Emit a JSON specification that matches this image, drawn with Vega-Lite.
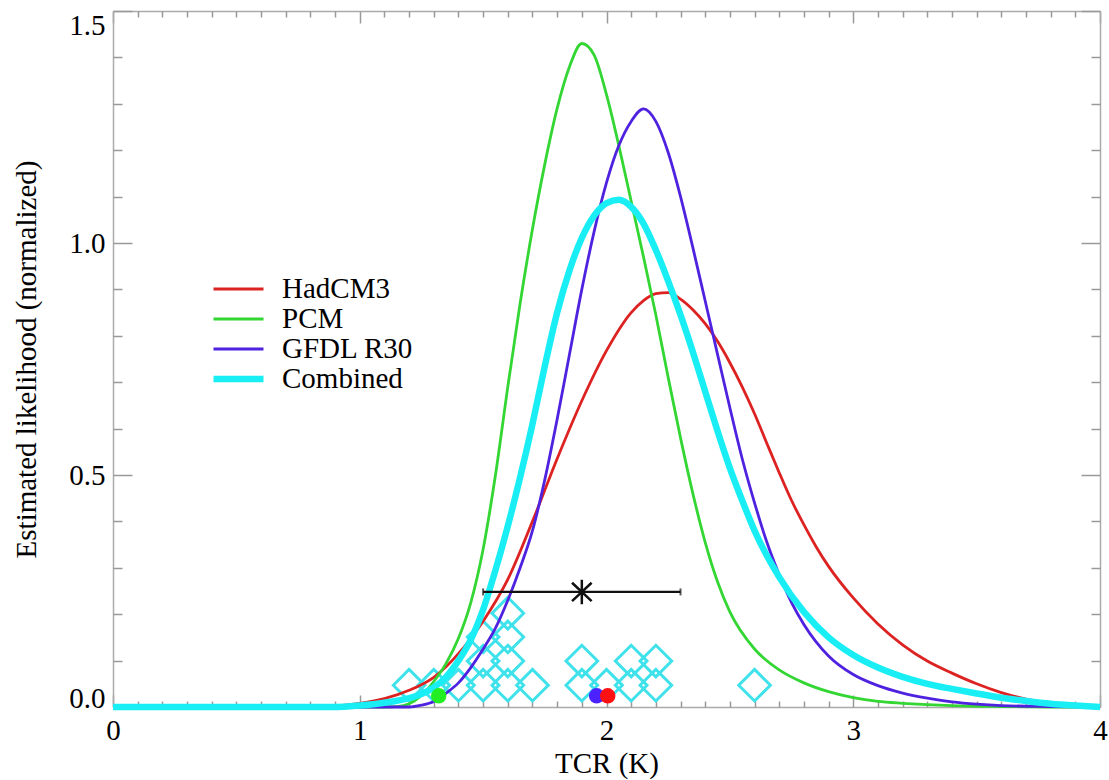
{
  "$schema": "https://vega.github.io/schema/vega-lite/v6.json",
  "width": 987,
  "height": 696,
  "autosize": {"type": "none"},
  "padding": {"left": 113, "top": 11, "right": 9, "bottom": 73},
  "background": "white",
  "config": {
    "view": {"stroke": null},
    "font": "Liberation Serif",
    "axis": {
      "labelFont": "Liberation Serif",
      "labelFontSize": 29,
      "labelColor": "#000000",
      "titleFont": "Liberation Serif",
      "titleFontSize": 29,
      "titleFontWeight": "normal",
      "titleColor": "#000000",
      "domainColor": "#aaaaaa",
      "domainWidth": 1.5,
      "tickColor": "#999999",
      "tickWidth": 1.5,
      "grid": false
    }
  },
  "datasets": {
    "curves": [
      {"model": "HadCM3", "x": 0, "y": 0}, {"model": "HadCM3", "x": 0.8, "y": 0}, {"model": "HadCM3", "x": 0.9, "y": 0.002},
      {"model": "HadCM3", "x": 1.0, "y": 0.008}, {"model": "HadCM3", "x": 1.1, "y": 0.018}, {"model": "HadCM3", "x": 1.2, "y": 0.036},
      {"model": "HadCM3", "x": 1.3, "y": 0.064}, {"model": "HadCM3", "x": 1.4, "y": 0.115}, {"model": "HadCM3", "x": 1.5, "y": 0.185},
      {"model": "HadCM3", "x": 1.6, "y": 0.275}, {"model": "HadCM3", "x": 1.7, "y": 0.40}, {"model": "HadCM3", "x": 1.8, "y": 0.535},
      {"model": "HadCM3", "x": 1.9, "y": 0.66}, {"model": "HadCM3", "x": 2.0, "y": 0.768}, {"model": "HadCM3", "x": 2.1, "y": 0.85},
      {"model": "HadCM3", "x": 2.15, "y": 0.876}, {"model": "HadCM3", "x": 2.2, "y": 0.891}, {"model": "HadCM3", "x": 2.25, "y": 0.893},
      {"model": "HadCM3", "x": 2.3, "y": 0.879}, {"model": "HadCM3", "x": 2.35, "y": 0.856}, {"model": "HadCM3", "x": 2.4, "y": 0.826},
      {"model": "HadCM3", "x": 2.45, "y": 0.788}, {"model": "HadCM3", "x": 2.5, "y": 0.742}, {"model": "HadCM3", "x": 2.55, "y": 0.69},
      {"model": "HadCM3", "x": 2.6, "y": 0.632}, {"model": "HadCM3", "x": 2.65, "y": 0.568}, {"model": "HadCM3", "x": 2.7, "y": 0.505},
      {"model": "HadCM3", "x": 2.75, "y": 0.445}, {"model": "HadCM3", "x": 2.8, "y": 0.393}, {"model": "HadCM3", "x": 2.85, "y": 0.345},
      {"model": "HadCM3", "x": 2.9, "y": 0.303}, {"model": "HadCM3", "x": 3.0, "y": 0.235}, {"model": "HadCM3", "x": 3.1, "y": 0.179},
      {"model": "HadCM3", "x": 3.2, "y": 0.134}, {"model": "HadCM3", "x": 3.3, "y": 0.099}, {"model": "HadCM3", "x": 3.4, "y": 0.073},
      {"model": "HadCM3", "x": 3.5, "y": 0.05}, {"model": "HadCM3", "x": 3.6, "y": 0.031}, {"model": "HadCM3", "x": 3.7, "y": 0.017},
      {"model": "HadCM3", "x": 3.8, "y": 0.008}, {"model": "HadCM3", "x": 3.9, "y": 0.002}, {"model": "HadCM3", "x": 4.0, "y": 0},

      {"model": "PCM", "x": 0, "y": 0}, {"model": "PCM", "x": 1.1, "y": 0}, {"model": "PCM", "x": 1.15, "y": 0.001},
      {"model": "PCM", "x": 1.2, "y": 0.007}, {"model": "PCM", "x": 1.25, "y": 0.025}, {"model": "PCM", "x": 1.3, "y": 0.055},
      {"model": "PCM", "x": 1.35, "y": 0.094}, {"model": "PCM", "x": 1.4, "y": 0.148}, {"model": "PCM", "x": 1.45, "y": 0.225},
      {"model": "PCM", "x": 1.5, "y": 0.34}, {"model": "PCM", "x": 1.55, "y": 0.50}, {"model": "PCM", "x": 1.6, "y": 0.69},
      {"model": "PCM", "x": 1.65, "y": 0.87}, {"model": "PCM", "x": 1.7, "y": 1.03}, {"model": "PCM", "x": 1.75, "y": 1.17},
      {"model": "PCM", "x": 1.8, "y": 1.29}, {"model": "PCM", "x": 1.85, "y": 1.38}, {"model": "PCM", "x": 1.9, "y": 1.43},
      {"model": "PCM", "x": 1.95, "y": 1.405}, {"model": "PCM", "x": 2.0, "y": 1.32}, {"model": "PCM", "x": 2.05, "y": 1.21},
      {"model": "PCM", "x": 2.1, "y": 1.09}, {"model": "PCM", "x": 2.15, "y": 0.97}, {"model": "PCM", "x": 2.2, "y": 0.845},
      {"model": "PCM", "x": 2.25, "y": 0.71}, {"model": "PCM", "x": 2.3, "y": 0.58}, {"model": "PCM", "x": 2.35, "y": 0.46},
      {"model": "PCM", "x": 2.4, "y": 0.355}, {"model": "PCM", "x": 2.45, "y": 0.27}, {"model": "PCM", "x": 2.5, "y": 0.205},
      {"model": "PCM", "x": 2.6, "y": 0.125}, {"model": "PCM", "x": 2.7, "y": 0.08}, {"model": "PCM", "x": 2.8, "y": 0.052},
      {"model": "PCM", "x": 2.9, "y": 0.033}, {"model": "PCM", "x": 3.0, "y": 0.02}, {"model": "PCM", "x": 3.1, "y": 0.012},
      {"model": "PCM", "x": 3.2, "y": 0.008}, {"model": "PCM", "x": 3.3, "y": 0.005}, {"model": "PCM", "x": 3.4, "y": 0.003},
      {"model": "PCM", "x": 3.6, "y": 0.001}, {"model": "PCM", "x": 3.8, "y": 0}, {"model": "PCM", "x": 4.0, "y": 0},

      {"model": "GFDL R30", "x": 0, "y": 0}, {"model": "GFDL R30", "x": 1.2, "y": 0}, {"model": "GFDL R30", "x": 1.25, "y": 0.004},
      {"model": "GFDL R30", "x": 1.3, "y": 0.012}, {"model": "GFDL R30", "x": 1.35, "y": 0.03}, {"model": "GFDL R30", "x": 1.4, "y": 0.052},
      {"model": "GFDL R30", "x": 1.45, "y": 0.085}, {"model": "GFDL R30", "x": 1.5, "y": 0.125}, {"model": "GFDL R30", "x": 1.55, "y": 0.17},
      {"model": "GFDL R30", "x": 1.6, "y": 0.23}, {"model": "GFDL R30", "x": 1.65, "y": 0.30}, {"model": "GFDL R30", "x": 1.7, "y": 0.38},
      {"model": "GFDL R30", "x": 1.75, "y": 0.49}, {"model": "GFDL R30", "x": 1.8, "y": 0.62}, {"model": "GFDL R30", "x": 1.85, "y": 0.76},
      {"model": "GFDL R30", "x": 1.9, "y": 0.90}, {"model": "GFDL R30", "x": 1.95, "y": 1.025}, {"model": "GFDL R30", "x": 2.0, "y": 1.13},
      {"model": "GFDL R30", "x": 2.05, "y": 1.21}, {"model": "GFDL R30", "x": 2.1, "y": 1.262}, {"model": "GFDL R30", "x": 2.15, "y": 1.289},
      {"model": "GFDL R30", "x": 2.2, "y": 1.262}, {"model": "GFDL R30", "x": 2.25, "y": 1.195}, {"model": "GFDL R30", "x": 2.3, "y": 1.10},
      {"model": "GFDL R30", "x": 2.35, "y": 0.99}, {"model": "GFDL R30", "x": 2.4, "y": 0.875}, {"model": "GFDL R30", "x": 2.45, "y": 0.76},
      {"model": "GFDL R30", "x": 2.5, "y": 0.645}, {"model": "GFDL R30", "x": 2.55, "y": 0.535}, {"model": "GFDL R30", "x": 2.6, "y": 0.44},
      {"model": "GFDL R30", "x": 2.65, "y": 0.355}, {"model": "GFDL R30", "x": 2.7, "y": 0.285}, {"model": "GFDL R30", "x": 2.75, "y": 0.225},
      {"model": "GFDL R30", "x": 2.8, "y": 0.178}, {"model": "GFDL R30", "x": 2.9, "y": 0.11}, {"model": "GFDL R30", "x": 3.0, "y": 0.07},
      {"model": "GFDL R30", "x": 3.1, "y": 0.046}, {"model": "GFDL R30", "x": 3.2, "y": 0.03}, {"model": "GFDL R30", "x": 3.3, "y": 0.019},
      {"model": "GFDL R30", "x": 3.4, "y": 0.011}, {"model": "GFDL R30", "x": 3.5, "y": 0.006}, {"model": "GFDL R30", "x": 3.6, "y": 0.003},
      {"model": "GFDL R30", "x": 3.8, "y": 0.001}, {"model": "GFDL R30", "x": 4.0, "y": 0},

      {"model": "Combined", "x": 0, "y": 0}, {"model": "Combined", "x": 0.9, "y": 0}, {"model": "Combined", "x": 0.95, "y": 0.001},
      {"model": "Combined", "x": 1.0, "y": 0.003}, {"model": "Combined", "x": 1.1, "y": 0.009}, {"model": "Combined", "x": 1.2, "y": 0.019},
      {"model": "Combined", "x": 1.25, "y": 0.028}, {"model": "Combined", "x": 1.3, "y": 0.042}, {"model": "Combined", "x": 1.35, "y": 0.065},
      {"model": "Combined", "x": 1.4, "y": 0.10}, {"model": "Combined", "x": 1.45, "y": 0.145}, {"model": "Combined", "x": 1.5, "y": 0.21},
      {"model": "Combined", "x": 1.55, "y": 0.295}, {"model": "Combined", "x": 1.6, "y": 0.39}, {"model": "Combined", "x": 1.65, "y": 0.495},
      {"model": "Combined", "x": 1.7, "y": 0.61}, {"model": "Combined", "x": 1.75, "y": 0.735}, {"model": "Combined", "x": 1.8, "y": 0.85},
      {"model": "Combined", "x": 1.85, "y": 0.941}, {"model": "Combined", "x": 1.9, "y": 1.011}, {"model": "Combined", "x": 1.95, "y": 1.059},
      {"model": "Combined", "x": 2.0, "y": 1.086}, {"model": "Combined", "x": 2.05, "y": 1.093}, {"model": "Combined", "x": 2.1, "y": 1.078},
      {"model": "Combined", "x": 2.15, "y": 1.042}, {"model": "Combined", "x": 2.2, "y": 0.985}, {"model": "Combined", "x": 2.25, "y": 0.918},
      {"model": "Combined", "x": 2.3, "y": 0.845}, {"model": "Combined", "x": 2.35, "y": 0.765}, {"model": "Combined", "x": 2.4, "y": 0.68},
      {"model": "Combined", "x": 2.45, "y": 0.595}, {"model": "Combined", "x": 2.5, "y": 0.515}, {"model": "Combined", "x": 2.55, "y": 0.445},
      {"model": "Combined", "x": 2.6, "y": 0.38}, {"model": "Combined", "x": 2.7, "y": 0.28}, {"model": "Combined", "x": 2.8, "y": 0.205},
      {"model": "Combined", "x": 2.9, "y": 0.15}, {"model": "Combined", "x": 3.0, "y": 0.112}, {"model": "Combined", "x": 3.1, "y": 0.085},
      {"model": "Combined", "x": 3.2, "y": 0.065}, {"model": "Combined", "x": 3.3, "y": 0.05}, {"model": "Combined", "x": 3.4, "y": 0.039},
      {"model": "Combined", "x": 3.5, "y": 0.029}, {"model": "Combined", "x": 3.6, "y": 0.02}, {"model": "Combined", "x": 3.7, "y": 0.013},
      {"model": "Combined", "x": 3.8, "y": 0.007}, {"model": "Combined", "x": 3.9, "y": 0.003}, {"model": "Combined", "x": 4.0, "y": 0}
    ],
    "diamonds": [
      {"x": 1.2, "y": 0.047}, {"x": 1.3, "y": 0.047}, {"x": 1.4, "y": 0.047}, {"x": 1.5, "y": 0.047}, {"x": 1.6, "y": 0.047},
      {"x": 1.7, "y": 0.047}, {"x": 1.9, "y": 0.047}, {"x": 2.0, "y": 0.047}, {"x": 2.1, "y": 0.047}, {"x": 2.2, "y": 0.047},
      {"x": 2.6, "y": 0.047},
      {"x": 1.5, "y": 0.099}, {"x": 1.6, "y": 0.099}, {"x": 1.9, "y": 0.099}, {"x": 2.1, "y": 0.099}, {"x": 2.2, "y": 0.099},
      {"x": 1.5, "y": 0.151}, {"x": 1.6, "y": 0.151},
      {"x": 1.6, "y": 0.202}
    ],
    "dots": [
      {"model": "PCM", "x": 1.32, "y": 0.024},
      {"model": "GFDL R30", "x": 1.96, "y": 0.024},
      {"model": "HadCM3", "x": 2.005, "y": 0.024}
    ],
    "range": [
      {"lo": 1.5, "hi": 2.3, "best": 1.9, "y": 0.248}
    ],
    "ends": [
      {"x": 1.5, "y": 0.248}, {"x": 2.3, "y": 0.248}
    ]
  },
  "resolve": {"axis": {"x": "independent", "y": "independent"}},
  "layer": [
    {
      "data": {"name": "diamonds"},
      "mark": {"type": "point", "shape": "diamond", "filled": false, "stroke": "#3fe2ea", "strokeWidth": 3, "size": 1000, "opacity": 1},
      "encoding": {
        "x": {"field": "x", "type": "quantitative", "scale": {"domain": [0, 4], "nice": false, "zero": false},
          "axis": {"orient": "bottom", "values": [0, 1, 2, 3, 4], "format": "d", "ticks": false, "domain": true, "labels": true,
            "labelPadding": 9, "labelFlush": false, "title": "TCR (K)", "titlePadding": 4}},
        "y": {"field": "y", "type": "quantitative", "scale": {"domain": [0, 1.5], "nice": false, "zero": false},
          "axis": {"orient": "left", "values": [0, 0.5, 1, 1.5], "format": ".1f", "ticks": false, "domain": true, "labels": true,
            "labelPadding": 8, "labelFlush": false,
            "labelBaseline": {"condition": [{"test": "datum.value === 0", "value": "alphabetic"}, {"test": "datum.value === 1.5", "value": "top"}], "value": "middle"},
            "title": "Estimated likelihood (normalized)", "titlePadding": 27}}
      }
    },
    {
      "data": {"name": "curves"},
      "mark": {"type": "line", "interpolate": "monotone"},
      "encoding": {
        "x": {"field": "x", "type": "quantitative", "scale": {"domain": [0, 4], "nice": false, "zero": false},
          "axis": {"orient": "bottom", "values": [0, 1, 2, 3, 4], "ticks": true, "tickSize": -12, "labels": false, "domain": false, "title": null}},
        "y": {"field": "y", "type": "quantitative", "scale": {"domain": [0, 1.5], "nice": false, "zero": false},
          "axis": {"orient": "left", "values": [0, 0.5, 1, 1.5], "ticks": true, "tickSize": -19, "labels": false, "domain": false, "title": null}},
        "color": {"field": "model", "type": "ordinal",
          "scale": {"domain": ["HadCM3", "PCM", "GFDL R30", "Combined"], "range": ["#dd2222", "#33d633", "#4f22e0", "#1aeef5"]},
          "legend": {"orient": "none", "legendX": 97, "legendY": 263, "title": null, "symbolType": "stroke", "symbolSize": 2500,
            "clipHeight": 30, "rowPadding": 0, "padding": 0, "labelOffset": 15, "labelFont": "Liberation Serif", "labelFontSize": 29,
            "labelColor": "#000000", "labelLimit": 0}},
        "strokeWidth": {"field": "model", "type": "ordinal",
          "scale": {"type": "ordinal", "domain": ["HadCM3", "PCM", "GFDL R30", "Combined"], "range": [2.8, 2.8, 2.8, 6.5]},
          "legend": {"orient": "none", "legendX": 97, "legendY": 263, "title": null, "symbolType": "stroke", "symbolSize": 2500,
            "clipHeight": 30, "rowPadding": 0, "padding": 0, "labelOffset": 15, "labelFont": "Liberation Serif", "labelFontSize": 29,
            "labelColor": "#000000", "labelLimit": 0}}
      }
    },
    {
      "data": {"name": "range"},
      "mark": {"type": "rule", "color": "#111111", "strokeWidth": 2.2},
      "encoding": {
        "x": {"field": "lo", "type": "quantitative", "scale": {"domain": [0, 4], "nice": false, "zero": false},
          "axis": {"orient": "bottom", "values": [0.1,0.2,0.3,0.4,0.5,0.6,0.7,0.8,0.9,1.1,1.2,1.3,1.4,1.5,1.6,1.7,1.8,1.9,2.1,2.2,2.3,2.4,2.5,2.6,2.7,2.8,2.9,3.1,3.2,3.3,3.4,3.5,3.6,3.7,3.8,3.9],
            "ticks": true, "tickSize": -6, "labels": false, "domain": false, "title": null}},
        "x2": {"field": "hi"},
        "y": {"field": "y", "type": "quantitative", "scale": {"domain": [0, 1.5], "nice": false, "zero": false},
          "axis": {"orient": "left", "values": [0.1,0.2,0.3,0.4,0.6,0.7,0.8,0.9,1.1,1.2,1.3,1.4],
            "ticks": true, "tickSize": -9, "labels": false, "domain": false, "title": null}}
      }
    },
    {
      "data": {"name": "ends"},
      "mark": {"type": "tick", "orient": "vertical", "color": "#111111", "size": 7, "thickness": 2},
      "encoding": {
        "x": {"field": "x", "type": "quantitative", "scale": {"domain": [0, 4], "nice": false, "zero": false},
          "axis": {"orient": "top", "values": [0, 1, 2, 3, 4], "ticks": true, "tickSize": -12, "labels": false, "domain": true, "title": null}},
        "y": {"field": "y", "type": "quantitative", "scale": {"domain": [0, 1.5], "nice": false, "zero": false},
          "axis": {"orient": "right", "values": [0, 0.5, 1, 1.5], "ticks": true, "tickSize": -19, "labels": false, "domain": true, "title": null}}
      }
    },
    {
      "data": {"name": "range"},
      "mark": {"type": "point", "shape": "M0,-1L0,1M-0.8,-0.75L0.8,0.75M-0.8,0.75L0.8,-0.75", "filled": false, "stroke": "#111111", "strokeWidth": 2.5, "size": 600, "opacity": 1},
      "encoding": {
        "x": {"field": "best", "type": "quantitative", "scale": {"domain": [0, 4], "nice": false, "zero": false},
          "axis": {"orient": "top", "values": [0.1,0.2,0.3,0.4,0.5,0.6,0.7,0.8,0.9,1.1,1.2,1.3,1.4,1.5,1.6,1.7,1.8,1.9,2.1,2.2,2.3,2.4,2.5,2.6,2.7,2.8,2.9,3.1,3.2,3.3,3.4,3.5,3.6,3.7,3.8,3.9],
            "ticks": true, "tickSize": -6, "labels": false, "domain": false, "title": null}},
        "y": {"field": "y", "type": "quantitative", "scale": {"domain": [0, 1.5], "nice": false, "zero": false},
          "axis": {"orient": "right", "values": [0.1,0.2,0.3,0.4,0.6,0.7,0.8,0.9,1.1,1.2,1.3,1.4],
            "ticks": true, "tickSize": -9, "labels": false, "domain": false, "title": null}}
      }
    },
    {
      "data": {"name": "dots"},
      "mark": {"type": "point", "shape": "circle", "filled": true, "size": 240, "opacity": 1, "strokeWidth": 0},
      "encoding": {
        "x": {"field": "x", "type": "quantitative", "scale": {"domain": [0, 4], "nice": false, "zero": false}, "axis": null},
        "y": {"field": "y", "type": "quantitative", "scale": {"domain": [0, 1.5], "nice": false, "zero": false}, "axis": null},
        "fill": {"field": "model", "type": "nominal",
          "scale": {"domain": ["HadCM3", "PCM", "GFDL R30"], "range": ["#ff1111", "#22ee22", "#4b22ff"]}, "legend": null}
      }
    }
  ]
}
